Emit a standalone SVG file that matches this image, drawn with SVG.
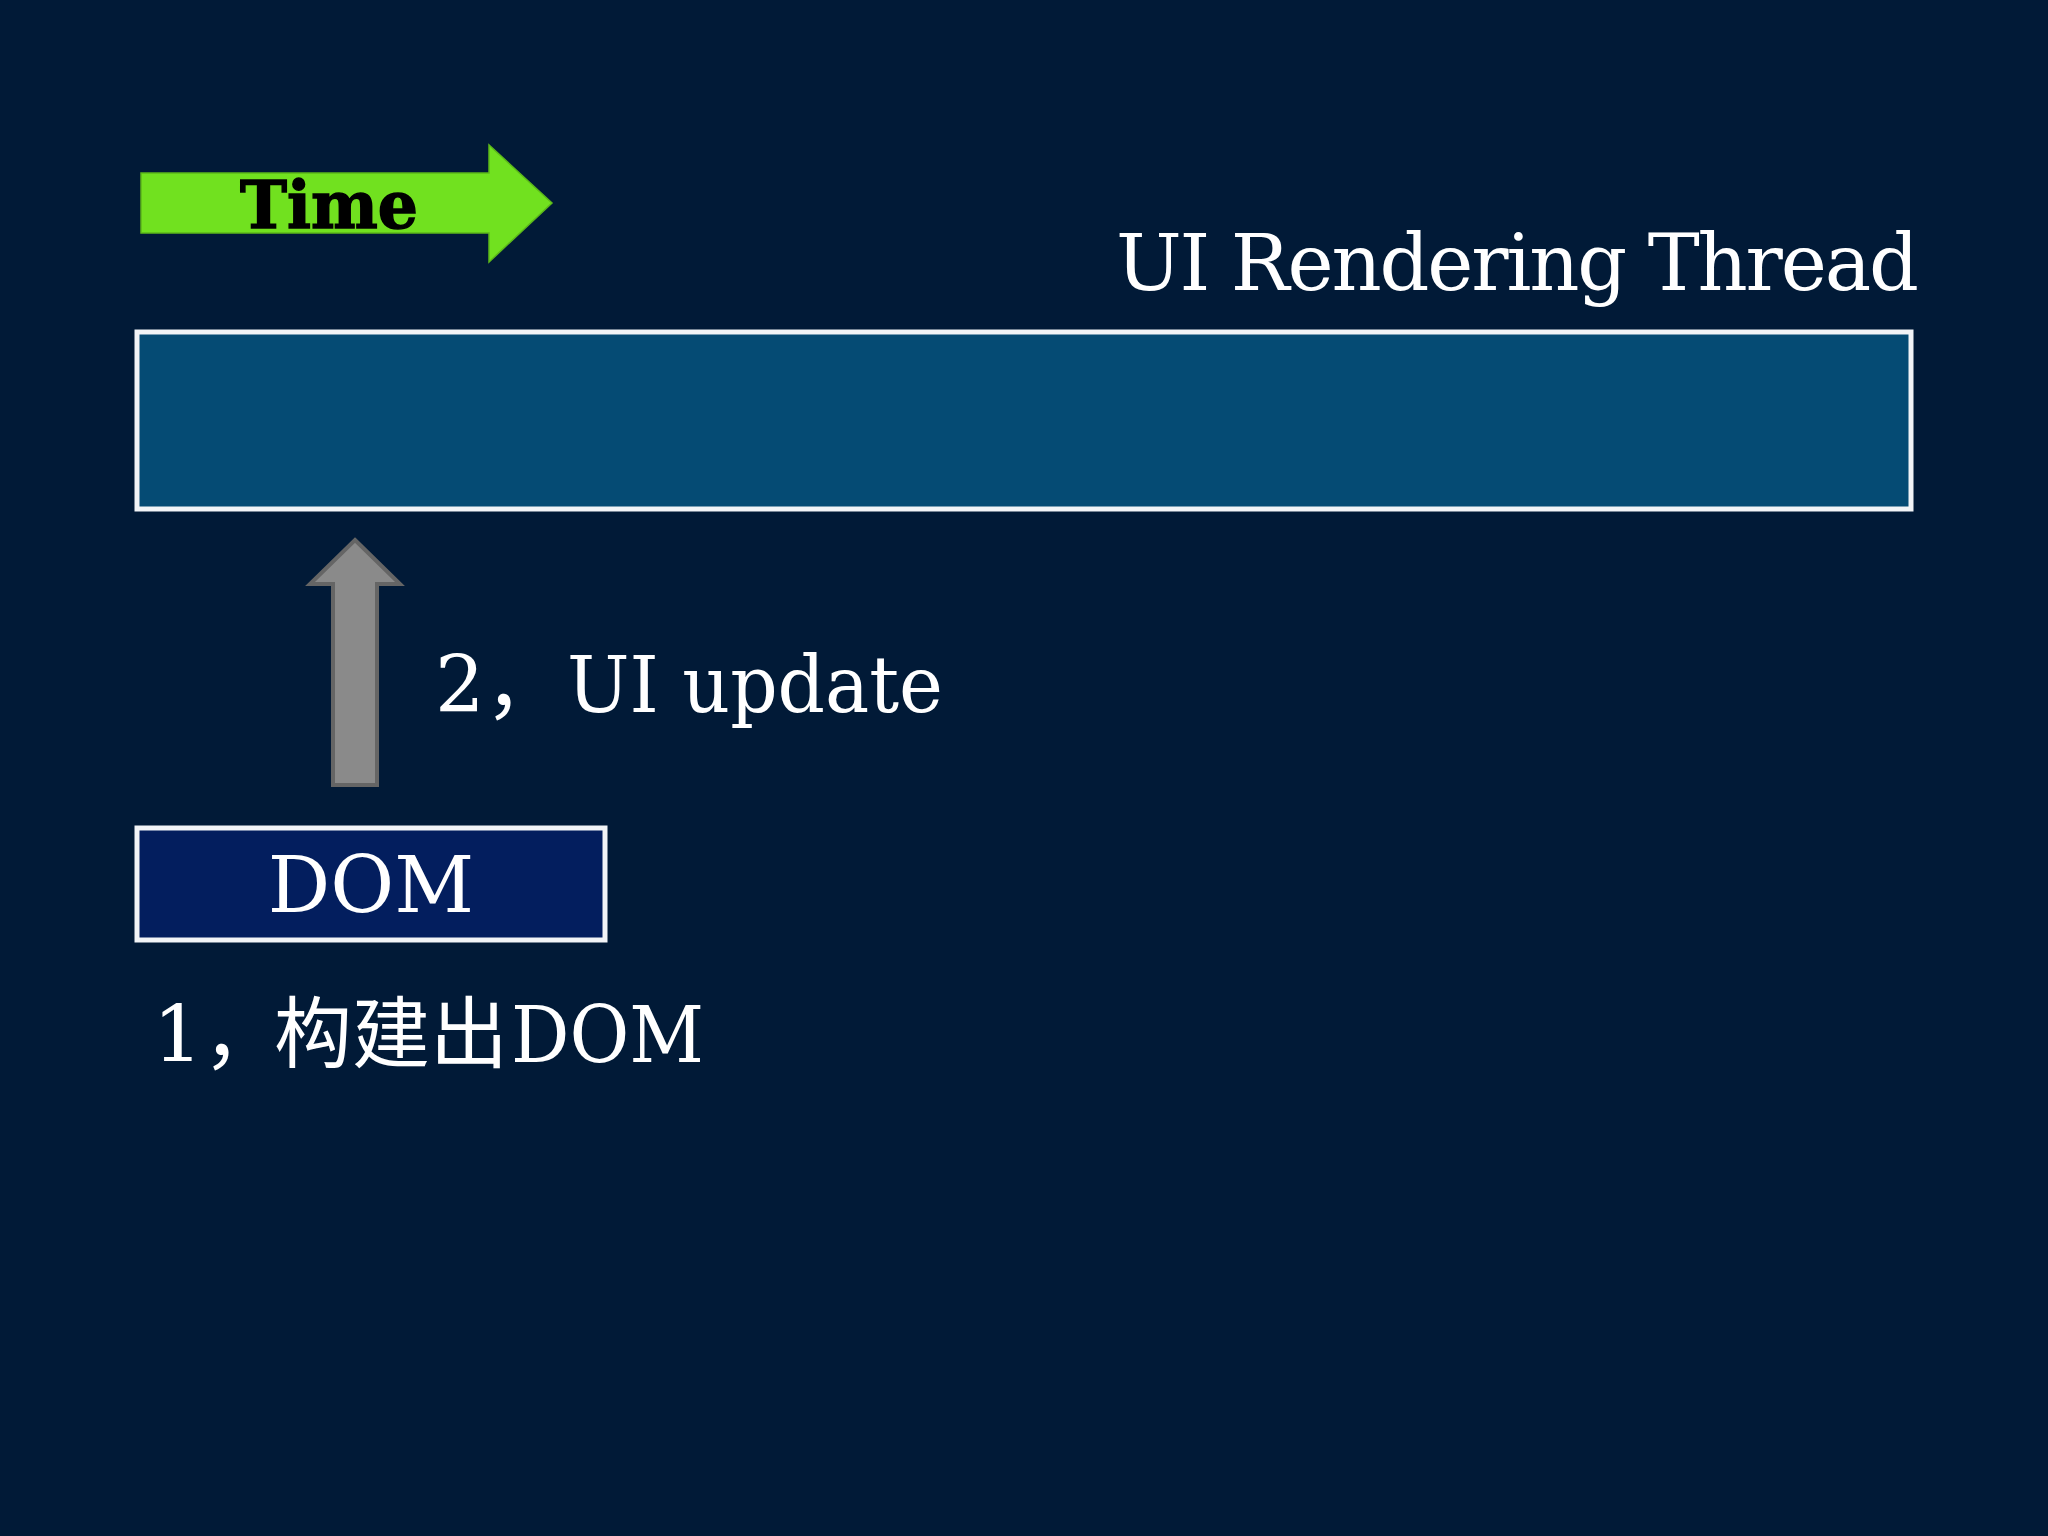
<svg xmlns="http://www.w3.org/2000/svg" width="2048" height="1536" viewBox="0 0 2048 1536">
  <style>
    .lbl { font-family: "DejaVu Serif", "Noto Sans CJK SC", serif; font-size: 78px; fill: #ffffff; }
    .cjk { font-family: "Noto Sans CJK SC", sans-serif; }
    .box { stroke: #f2f4f7; stroke-width: 5; }
  </style>
  <rect x="0" y="0" width="2048" height="1536" fill="#011a37"/>

  <g id="time-arrow">
    <polygon points="141,173 489,173 489,145 552,203 489,262 489,233 141,233" fill="#71e11f" stroke="#5cb81a" stroke-width="1.5"/>
    <text x="240" y="228" font-family="'DejaVu Serif', serif" font-weight="bold" font-size="66" fill="#000000" stroke="#000000" stroke-width="1.5" textLength="178" lengthAdjust="spacingAndGlyphs">Time</text>
  </g>

  <g id="thread-label">
    <text class="lbl" x="1116" y="290" textLength="803">UI Rendering Thread</text>
  </g>

  <g id="ui-thread-bar">
    <rect class="box" x="137" y="332" width="1774" height="177" fill="#054b74"/>
  </g>

  <g id="dom-node">
    <rect class="box" x="137" y="828" width="468" height="112" fill="#031e5e"/>
    <text class="lbl" x="371" y="912" text-anchor="middle">DOM</text>
  </g>

  <g id="connectors">
    <polygon points="355,540 400,584 377,584 377,785 333,785 333,584 310,584" fill="#8a8a8a" stroke="#656565" stroke-width="4" stroke-linejoin="miter"/>
  </g>

  <g id="step2-label">
    <text class="lbl" x="435" y="712">2<tspan class="cjk">，</tspan><tspan x="567" textLength="376" lengthAdjust="spacingAndGlyphs">UI update</tspan></text>
  </g>

  <g id="step1-label">
    <text class="lbl" x="153" y="1062">1<tspan class="cjk">，</tspan><tspan class="cjk" x="274">构建出</tspan><tspan x="511" textLength="193" lengthAdjust="spacingAndGlyphs">DOM</tspan></text>
  </g>
</svg>
